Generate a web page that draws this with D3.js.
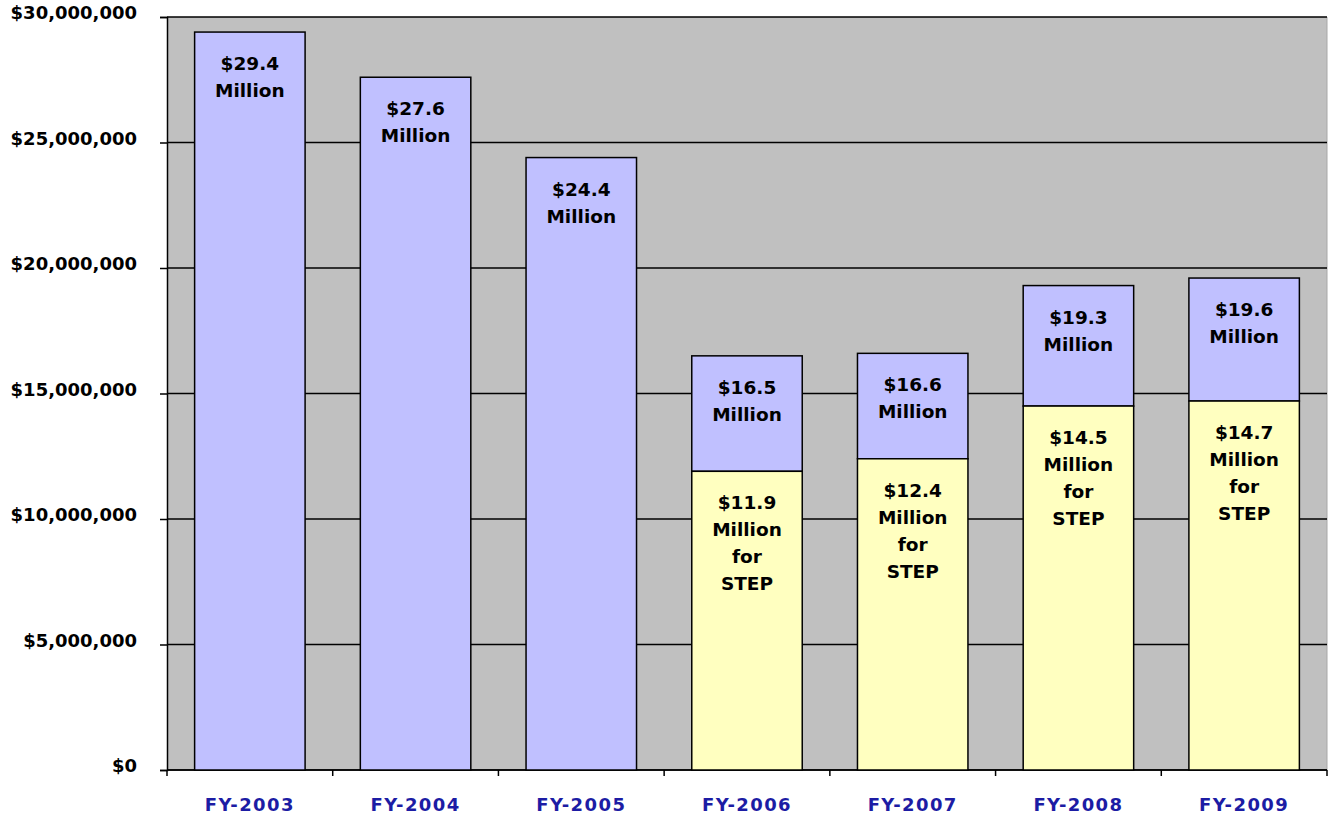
<!DOCTYPE html>
<html>
<head>
<meta charset="utf-8">
<script src="https://cdn.jsdelivr.net/npm/d3@7"></script>
<style>
  body { margin: 0; background: #fff; }
  text { font-family: "DejaVu Sans", Verdana, sans-serif; font-weight: bold; }
</style>
</head>
<body>
<div id="chart"></div>
<script>
// data (millions of dollars)
var years = ["FY-2003", "FY-2004", "FY-2005", "FY-2006", "FY-2007", "FY-2008", "FY-2009"];
var totals = [29.4, 27.6, 24.4, 16.5, 16.6, 19.3, 19.6];
var stepPart = [0, 0, 0, 11.9, 12.4, 14.5, 14.7];
var yTicks = [0, 5, 10, 15, 20, 25, 30];

var margin = {top: 17, right: 9, bottom: 51, left: 167};
var width = 1336 - margin.left - margin.right;
var height = 821 - margin.top - margin.bottom;

var svg = d3.select("#chart")
  .append("svg")
  .attr("width", 1336)
  .attr("height", 821)
  .append("g")
  .attr("transform", "translate(" + margin.left + "," + margin.top + ")");

var rows = years.map(function(yr, i) {
  return {year: yr, total: totals[i], step: stepPart[i]};
});

var x = d3.scaleBand()
  .domain(years)
  .range([0, width])
  .paddingInner(1 / 3)
  .paddingOuter(1 / 6);

var y = d3.scaleLinear()
  .domain([0, 30])
  .range([height, 0]);

// plot background
svg.append("rect")
  .attr("width", width)
  .attr("height", height)
  .style("fill", "#c0c0c0");

svg.append("line")
  .attr("x1", width).attr("x2", width)
  .attr("y1", 0).attr("y2", height)
  .style("stroke", "#a8a8a8");

// gridlines
svg.selectAll(".grid")
  .data(yTicks)
  .enter()
  .append("line")
  .attr("x1", 0)
  .attr("x2", width)
  .attr("y1", function(d) { return y(d) })
  .attr("y2", function(d) { return y(d) })
  .style("stroke", "#000")
  .style("stroke-width", 1.5);

// y axis
var fmt = d3.format("$,");
var yAxis = svg.append("g")
  .call(d3.axisLeft(y).tickValues(yTicks).tickSize(7).tickPadding(23)
    .tickFormat(function(d) { return fmt(d * 1000000) }));
yAxis.select(".domain").style("stroke", "#000").style("stroke-width", 1.5);
yAxis.selectAll("line").style("stroke-width", 1.5);
yAxis.selectAll("text")
  .style("font-size", "18px")
  .style("fill", "#000")
  .attr("dy", "0.1em");

// x axis - ticks on category boundaries
var step = width / years.length;
var bounds = d3.range(years.length + 1).map(function(i) { return i * step });
svg.append("line")
  .attr("x1", 0).attr("x2", width)
  .attr("y1", height).attr("y2", height)
  .style("stroke", "#000").style("stroke-width", 1.5);
svg.selectAll(".xtick")
  .data(bounds)
  .enter()
  .append("line")
  .attr("x1", function(d) { return d })
  .attr("x2", function(d) { return d })
  .attr("y1", height)
  .attr("y2", height + 6)
  .style("stroke", "#000").style("stroke-width", 1.5);

svg.selectAll(".xlab")
  .data(years)
  .enter()
  .append("text")
  .attr("x", function(d) { return x(d) + x.bandwidth() / 2 })
  .attr("y", height + 41)
  .attr("text-anchor", "middle")
  .style("font-size", "18px")
  .style("letter-spacing", "1.4px")
  .style("fill", "#1c1ca4")
  .text(function(d) { return d });

// bars: yellow STEP part on bottom, lavender remainder on top
svg.selectAll(".top")
  .data(rows)
  .enter()
  .append("rect")
  .attr("x", function(d) { return x(d.year) })
  .attr("y", function(d) { return y(d.total) })
  .attr("width", x.bandwidth())
  .attr("height", function(d) { return y(d.step) - y(d.total) })
  .style("fill", "#c0c0ff")
  .style("stroke", "#000")
  .style("stroke-width", 1.5);

svg.selectAll(".bottom")
  .data(rows.filter(function(d) { return d.step > 0 }))
  .enter()
  .append("rect")
  .attr("x", function(d) { return x(d.year) })
  .attr("y", function(d) { return y(d.step) })
  .attr("width", x.bandwidth())
  .attr("height", function(d) { return y(0) - y(d.step) })
  .style("fill", "#ffffc0")
  .style("stroke", "#000")
  .style("stroke-width", 1.5);

// labels
function addLabel(cx, top, lines) {
  var t = svg.append("text")
    .attr("text-anchor", "middle")
    .style("font-size", "18.5px")
    .style("fill", "#000");
  lines.forEach(function(s, i) {
    t.append("tspan")
      .attr("x", cx)
      .attr("y", top + 38 + i * 27)
      .text(s);
  });
}

rows.forEach(function(d) {
  var cx = x(d.year) + x.bandwidth() / 2;
  addLabel(cx, y(d.total), ["$" + d.total.toFixed(1), "Million"]);
  if (d.step > 0) {
    addLabel(cx, y(d.step), ["$" + d.step.toFixed(1), "Million", "for", "STEP"]);
  }
});
</script>
</body>
</html>
